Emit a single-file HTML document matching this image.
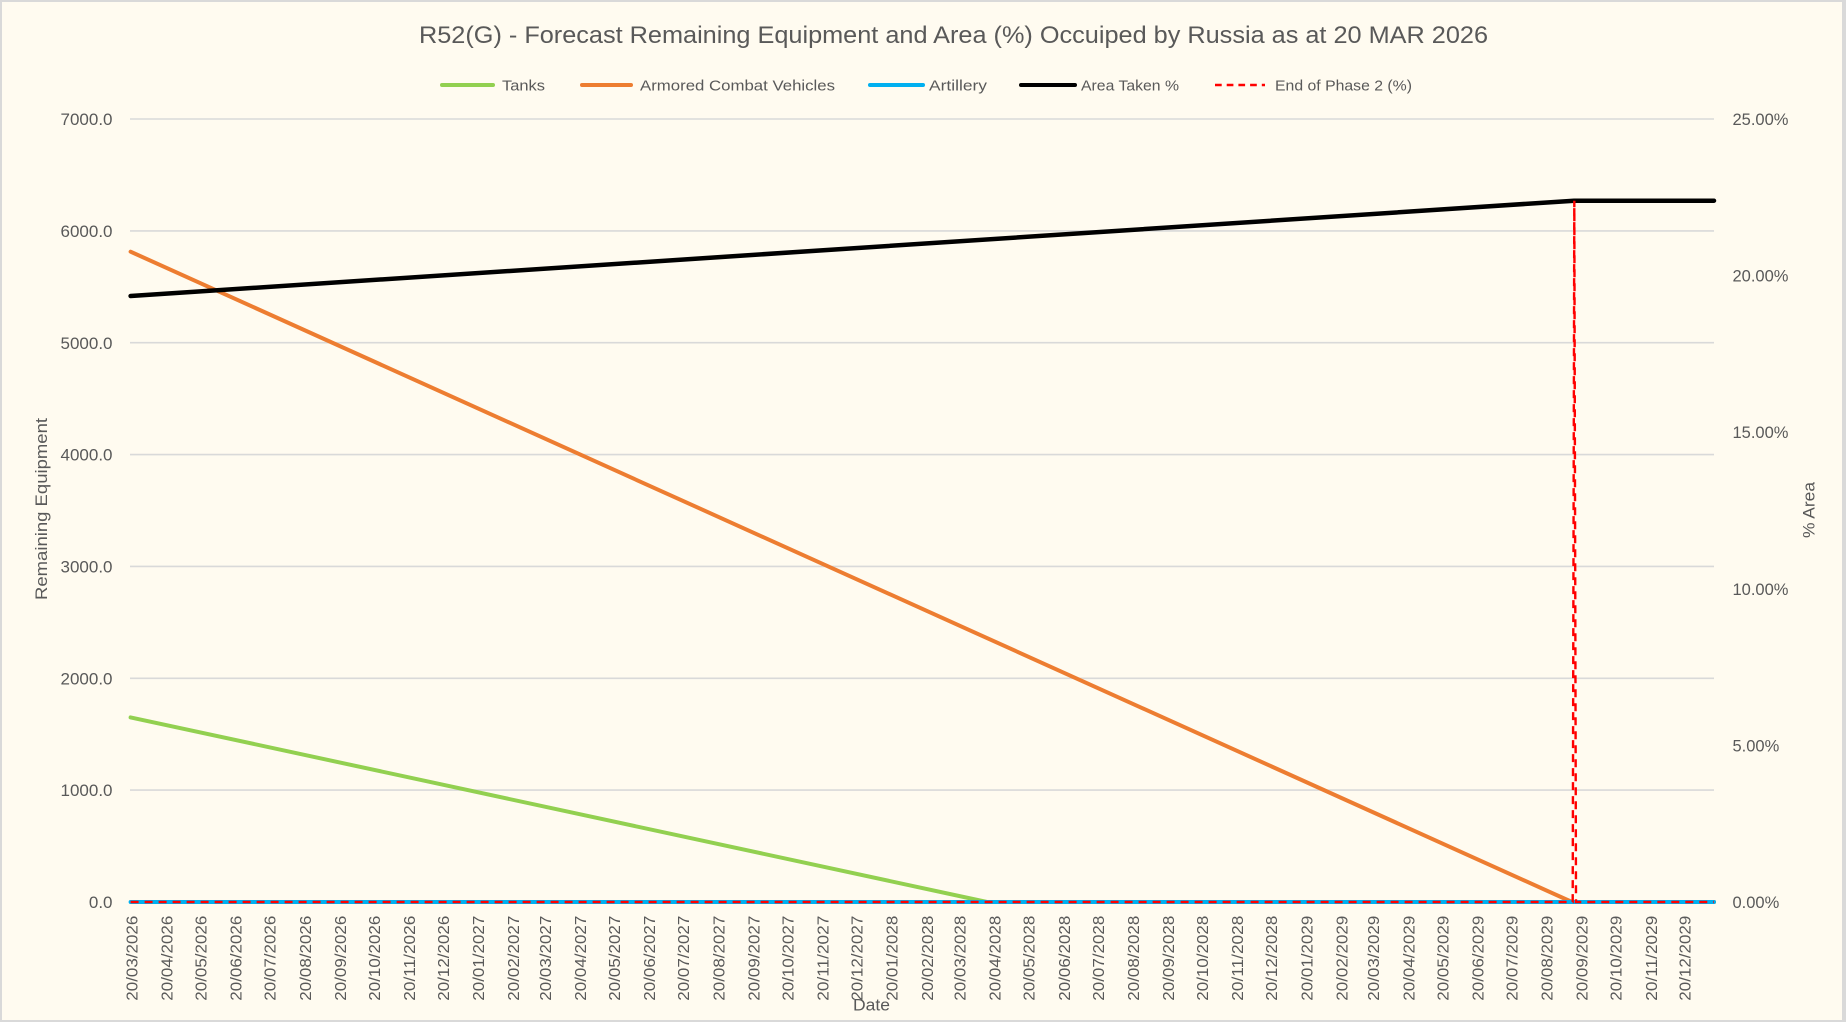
<!DOCTYPE html>
<html>
<head>
<meta charset="utf-8">
<style>
html,body{margin:0;padding:0;background:#d9d9d9;}
svg{display:block;}
text{font-family:"Liberation Sans",sans-serif;fill:#595959;}
</style>
</head>
<body>
<svg width="1846" height="1022" viewBox="0 0 1846 1022" xmlns="http://www.w3.org/2000/svg">
<rect x="0" y="0" width="1846" height="1022" fill="#d9d9d9"/>
<rect x="2" y="2" width="1840" height="1018" fill="#fffbf0"/>

<!-- Title -->
<text x="419" y="43" font-size="24" textLength="1069" lengthAdjust="spacingAndGlyphs">R52(G) - Forecast Remaining Equipment and Area (%) Occuiped by Russia as at 20 MAR 2026</text>

<!-- Legend -->
<g stroke-width="4" stroke-linecap="round">
<line x1="442" y1="85" x2="493" y2="85" stroke="#92d050"/>
<line x1="582" y1="85" x2="631" y2="85" stroke="#ed7d31"/>
<line x1="870" y1="85" x2="923" y2="85" stroke="#00b0f0"/>
<line x1="1021" y1="85" x2="1075" y2="85" stroke="#000000"/>
</g>
<line x1="1215" y1="85" x2="1265" y2="85" stroke="#ff0000" stroke-width="2.5" stroke-dasharray="6.7 5"/>
<g font-size="15">
<text x="502" y="90.4" textLength="43" lengthAdjust="spacingAndGlyphs">Tanks</text>
<text x="640" y="90.4" textLength="195" lengthAdjust="spacingAndGlyphs">Armored Combat Vehicles</text>
<text x="929" y="90.4" textLength="58" lengthAdjust="spacingAndGlyphs">Artillery</text>
<text x="1081" y="90.4" textLength="98" lengthAdjust="spacingAndGlyphs">Area Taken %</text>
<text x="1275" y="90.4" textLength="137" lengthAdjust="spacingAndGlyphs">End of Phase 2 (%)</text>
</g>

<!-- Gridlines -->
<g stroke="#d9d9d9" stroke-width="1.6">
<line x1="130" y1="119" x2="1714" y2="119"/>
<line x1="130" y1="230.9" x2="1714" y2="230.9"/>
<line x1="130" y1="342.7" x2="1714" y2="342.7"/>
<line x1="130" y1="454.6" x2="1714" y2="454.6"/>
<line x1="130" y1="566.4" x2="1714" y2="566.4"/>
<line x1="130" y1="678.3" x2="1714" y2="678.3"/>
<line x1="130" y1="790.1" x2="1714" y2="790.1"/>
<line x1="130" y1="902" x2="1714" y2="902"/>
</g>

<!-- Left axis labels -->
<g font-size="17" text-anchor="end">
<text x="112.5" y="125.1">7000.0</text>
<text x="112.5" y="237">6000.0</text>
<text x="112.5" y="348.8">5000.0</text>
<text x="112.5" y="460.7">4000.0</text>
<text x="112.5" y="572.5">3000.0</text>
<text x="112.5" y="684.4">2000.0</text>
<text x="112.5" y="796.2">1000.0</text>
<text x="112.5" y="908.1">0.0</text>
</g>

<!-- Right axis labels -->
<g font-size="16.5">
<text x="1732.5" y="125">25.00%</text>
<text x="1732.5" y="281.6">20.00%</text>
<text x="1732.5" y="438.2">15.00%</text>
<text x="1732.5" y="594.8">10.00%</text>
<text x="1732.5" y="751.4">5.00%</text>
<text x="1732.5" y="908">0.00%</text>
</g>

<!-- Axis titles -->
<text transform="translate(47,509) rotate(-90)" font-size="17" text-anchor="middle" textLength="182" lengthAdjust="spacingAndGlyphs">Remaining Equipment</text>
<text transform="translate(1814.5,510) rotate(-90)" font-size="17" text-anchor="middle" textLength="56" lengthAdjust="spacingAndGlyphs">% Area</text>

<!-- X axis labels -->
<g font-size="16">
<text transform="translate(137.4,1000.7) rotate(-90)" textLength="85" lengthAdjust="spacingAndGlyphs">20/03/2026</text>
<text transform="translate(172.5,1000.7) rotate(-90)" textLength="85" lengthAdjust="spacingAndGlyphs">20/04/2026</text>
<text transform="translate(206.5,1000.7) rotate(-90)" textLength="85" lengthAdjust="spacingAndGlyphs">20/05/2026</text>
<text transform="translate(241.6,1000.7) rotate(-90)" textLength="85" lengthAdjust="spacingAndGlyphs">20/06/2026</text>
<text transform="translate(275.6,1000.7) rotate(-90)" textLength="85" lengthAdjust="spacingAndGlyphs">20/07/2026</text>
<text transform="translate(310.8,1000.7) rotate(-90)" textLength="85" lengthAdjust="spacingAndGlyphs">20/08/2026</text>
<text transform="translate(345.9,1000.7) rotate(-90)" textLength="85" lengthAdjust="spacingAndGlyphs">20/09/2026</text>
<text transform="translate(379.9,1000.7) rotate(-90)" textLength="85" lengthAdjust="spacingAndGlyphs">20/10/2026</text>
<text transform="translate(415.0,1000.7) rotate(-90)" textLength="85" lengthAdjust="spacingAndGlyphs">20/11/2026</text>
<text transform="translate(449.0,1000.7) rotate(-90)" textLength="85" lengthAdjust="spacingAndGlyphs">20/12/2026</text>
<text transform="translate(484.1,1000.7) rotate(-90)" textLength="85" lengthAdjust="spacingAndGlyphs">20/01/2027</text>
<text transform="translate(519.2,1000.7) rotate(-90)" textLength="85" lengthAdjust="spacingAndGlyphs">20/02/2027</text>
<text transform="translate(551.0,1000.7) rotate(-90)" textLength="85" lengthAdjust="spacingAndGlyphs">20/03/2027</text>
<text transform="translate(586.1,1000.7) rotate(-90)" textLength="85" lengthAdjust="spacingAndGlyphs">20/04/2027</text>
<text transform="translate(620.1,1000.7) rotate(-90)" textLength="85" lengthAdjust="spacingAndGlyphs">20/05/2027</text>
<text transform="translate(655.2,1000.7) rotate(-90)" textLength="85" lengthAdjust="spacingAndGlyphs">20/06/2027</text>
<text transform="translate(689.2,1000.7) rotate(-90)" textLength="85" lengthAdjust="spacingAndGlyphs">20/07/2027</text>
<text transform="translate(724.3,1000.7) rotate(-90)" textLength="85" lengthAdjust="spacingAndGlyphs">20/08/2027</text>
<text transform="translate(759.4,1000.7) rotate(-90)" textLength="85" lengthAdjust="spacingAndGlyphs">20/09/2027</text>
<text transform="translate(793.4,1000.7) rotate(-90)" textLength="85" lengthAdjust="spacingAndGlyphs">20/10/2027</text>
<text transform="translate(828.5,1000.7) rotate(-90)" textLength="85" lengthAdjust="spacingAndGlyphs">20/11/2027</text>
<text transform="translate(862.5,1000.7) rotate(-90)" textLength="85" lengthAdjust="spacingAndGlyphs">20/12/2027</text>
<text transform="translate(897.7,1000.7) rotate(-90)" textLength="85" lengthAdjust="spacingAndGlyphs">20/01/2028</text>
<text transform="translate(932.8,1000.7) rotate(-90)" textLength="85" lengthAdjust="spacingAndGlyphs">20/02/2028</text>
<text transform="translate(965.6,1000.7) rotate(-90)" textLength="85" lengthAdjust="spacingAndGlyphs">20/03/2028</text>
<text transform="translate(1000.7,1000.7) rotate(-90)" textLength="85" lengthAdjust="spacingAndGlyphs">20/04/2028</text>
<text transform="translate(1034.7,1000.7) rotate(-90)" textLength="85" lengthAdjust="spacingAndGlyphs">20/05/2028</text>
<text transform="translate(1069.9,1000.7) rotate(-90)" textLength="85" lengthAdjust="spacingAndGlyphs">20/06/2028</text>
<text transform="translate(1103.8,1000.7) rotate(-90)" textLength="85" lengthAdjust="spacingAndGlyphs">20/07/2028</text>
<text transform="translate(1139.0,1000.7) rotate(-90)" textLength="85" lengthAdjust="spacingAndGlyphs">20/08/2028</text>
<text transform="translate(1174.1,1000.7) rotate(-90)" textLength="85" lengthAdjust="spacingAndGlyphs">20/09/2028</text>
<text transform="translate(1208.1,1000.7) rotate(-90)" textLength="85" lengthAdjust="spacingAndGlyphs">20/10/2028</text>
<text transform="translate(1243.2,1000.7) rotate(-90)" textLength="85" lengthAdjust="spacingAndGlyphs">20/11/2028</text>
<text transform="translate(1277.2,1000.7) rotate(-90)" textLength="85" lengthAdjust="spacingAndGlyphs">20/12/2028</text>
<text transform="translate(1312.3,1000.7) rotate(-90)" textLength="85" lengthAdjust="spacingAndGlyphs">20/01/2029</text>
<text transform="translate(1347.4,1000.7) rotate(-90)" textLength="85" lengthAdjust="spacingAndGlyphs">20/02/2029</text>
<text transform="translate(1379.2,1000.7) rotate(-90)" textLength="85" lengthAdjust="spacingAndGlyphs">20/03/2029</text>
<text transform="translate(1414.3,1000.7) rotate(-90)" textLength="85" lengthAdjust="spacingAndGlyphs">20/04/2029</text>
<text transform="translate(1448.3,1000.7) rotate(-90)" textLength="85" lengthAdjust="spacingAndGlyphs">20/05/2029</text>
<text transform="translate(1483.4,1000.7) rotate(-90)" textLength="85" lengthAdjust="spacingAndGlyphs">20/06/2029</text>
<text transform="translate(1517.4,1000.7) rotate(-90)" textLength="85" lengthAdjust="spacingAndGlyphs">20/07/2029</text>
<text transform="translate(1552.5,1000.7) rotate(-90)" textLength="85" lengthAdjust="spacingAndGlyphs">20/08/2029</text>
<text transform="translate(1587.6,1000.7) rotate(-90)" textLength="85" lengthAdjust="spacingAndGlyphs">20/09/2029</text>
<text transform="translate(1621.6,1000.7) rotate(-90)" textLength="85" lengthAdjust="spacingAndGlyphs">20/10/2029</text>
<text transform="translate(1656.8,1000.7) rotate(-90)" textLength="85" lengthAdjust="spacingAndGlyphs">20/11/2029</text>
<text transform="translate(1690.7,1000.7) rotate(-90)" textLength="85" lengthAdjust="spacingAndGlyphs">20/12/2029</text>
</g>

<text x="853" y="1010.5" font-size="17" textLength="37" lengthAdjust="spacingAndGlyphs">Date</text>

<!-- Series -->
<g fill="none" stroke-width="4" stroke-linejoin="round" stroke-linecap="round">
<polyline points="130.6,717.4 987,902 1714,902" stroke="#92d050"/>
<polyline points="130.6,251.7 1572,902 1714,902" stroke="#ed7d31"/>
<polyline points="130.6,902 1714,902" stroke="#00b0f0"/>
<polyline points="130.6,296 1574,200.7 1714,200.7" stroke="#000000" stroke-width="4.5"/>
</g>
<polyline points="130.6,902 1572.7,902 1574.3,200.7 1576,902 1714,902" fill="none" stroke="#ff0000" stroke-width="2.4" stroke-dasharray="8 6" stroke-linejoin="miter"/>
</svg>
</body>
</html>
